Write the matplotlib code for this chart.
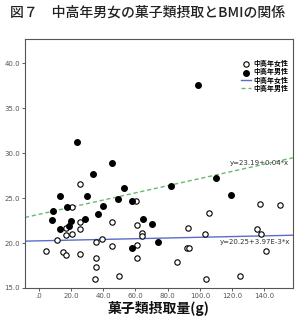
import matplotlib.pyplot as plt
import numpy as np

plt.rcParams['font.family'] = ['Noto Sans CJK JP', 'DejaVu Sans']

# sweets intake (g) and BMI
female_x = [25.7, 20.5, 60.6, 137.2, 149.5, 105.4, 25.7, 45.7, 60.8, 92.7,
            135.1, 17.0, 25.7, 103.1, 137.6, 64.3, 64.3, 17.0, 20.5, 11.3,
            35.6, 39.4, 45.7, 60.8, 91.8, 93.0, 4.8, 15.2, 17.0, 25.7,
            140.9, 35.3, 60.8, 85.6, 35.6, 35.0, 49.7, 103.5, 124.6]
female_bmi = [26.6, 24.0, 24.65, 24.33, 24.26, 23.37, 22.4, 22.4, 22.0, 21.7,
              21.6, 21.7, 21.6, 21.0, 21.0, 21.1, 20.8, 20.9, 21.0, 20.3,
              20.1, 20.5, 19.67, 19.8, 19.5, 19.5, 19.1, 19.0, 18.67, 18.8,
              19.07, 18.3, 18.3, 17.9, 17.3, 16.0, 16.35, 16.0, 16.3]

male_x = [23.6, 33.9, 45.3, 99.0, 13.3, 29.8, 17.5, 40.1, 53.1, 49.4,
          57.7, 81.8, 109.9, 119.0, 9.0, 8.2, 19.9, 28.8, 36.6, 13.3,
          19.1, 65.0, 70.1, 74.2, 57.7]
male_bmi = [31.26, 27.67, 28.97, 37.6, 25.26, 25.26, 24.0, 24.1, 26.15, 24.95,
            24.72, 26.4, 27.26, 25.3, 23.56, 22.6, 22.5, 22.67, 23.2, 21.6,
            21.9, 22.65, 22.1, 20.15, 19.5]

# regression coefficients shown on the chart
female_fit = (20.25, 3.97e-3)
male_fit = (23.19, 0.04)

x_ticks = [0, 20, 40, 60, 80, 100, 120, 140]
x_ticklabels = ['.0', '20.0', '40.0', '60.0', '80.0', '100.0', '120.0', '140.0']
y_ticks = [15, 20, 25, 30, 35, 40]
y_ticklabels = ['15.0', '20.0', '25.0', '30.0', '35.0', '40.0']

fig = plt.figure(figsize=(2.96, 3.19), dpi=100)
ax = fig.add_axes([0.0845, 0.0972, 0.905, 0.7798])

xmin, xmax = -8.4, 157.6
ax.set_xlim(xmin, xmax)
ax.set_ylim(15, 42.7)

ax.scatter(female_x, female_bmi, s=15, facecolors='white', edgecolors='black',
           linewidths=0.8, zorder=3, label='中高年女性')
ax.scatter(male_x, male_bmi, s=16, color='black', zorder=3, label='中高年男性')

xx = np.array([xmin, xmax])
ax.plot(xx, female_fit[0] + female_fit[1] * xx, color='#5a6ec8', lw=1.0,
        label='中高年女性', zorder=2)
ax.plot(xx, male_fit[0] + male_fit[1] * xx, color='#6cb86c', lw=1.0,
        linestyle=(0, (3, 2)), label='中高年男性', zorder=2)

ax.text(155, 28.6, 'y=23.19+0.04*x', fontsize=5, ha='right', va='bottom',
        family='DejaVu Sans', color='#333333')
ax.text(156, 19.8, 'y=20.25+3.97E-3*x', fontsize=5, ha='right', va='bottom',
        family='DejaVu Sans', color='#333333')

ax.set_xticks(x_ticks)
ax.set_xticklabels(x_ticklabels)
ax.set_yticks(y_ticks)
ax.set_yticklabels(y_ticklabels)
ax.tick_params(direction='out', length=2.5, width=0.6, labelsize=5,
               labelcolor='#555555', color='#444444', pad=1.2)
for lab in ax.get_xticklabels() + ax.get_yticklabels():
    lab.set_family('DejaVu Sans')
for sp in ax.spines.values():
    sp.set_color('#555555')
    sp.set_linewidth(0.8)

# axis title placed directly so it stays inside the small canvas
fig.text(0.535, 1 - 308.5 / 319, '菓子類摂取量(g)', ha='center', va='center',
         fontsize=10, fontweight='bold', color='#111111')

leg = ax.legend(loc='upper right', bbox_to_anchor=(1.0, 0.935), frameon=False,
                fontsize=5, handlelength=1.4, handletextpad=0.3,
                labelspacing=0.15, borderpad=0.2)
for t in leg.get_texts():
    t.set_fontweight('bold')

fig.text(0.5, 1 - 13 / 319, '図７　中高年男女の菓子類摂取とBMIの関係',
         ha='center', va='center', fontsize=10, fontweight='medium',
         color='#222222')

fig.savefig('out.png', dpi=100)
